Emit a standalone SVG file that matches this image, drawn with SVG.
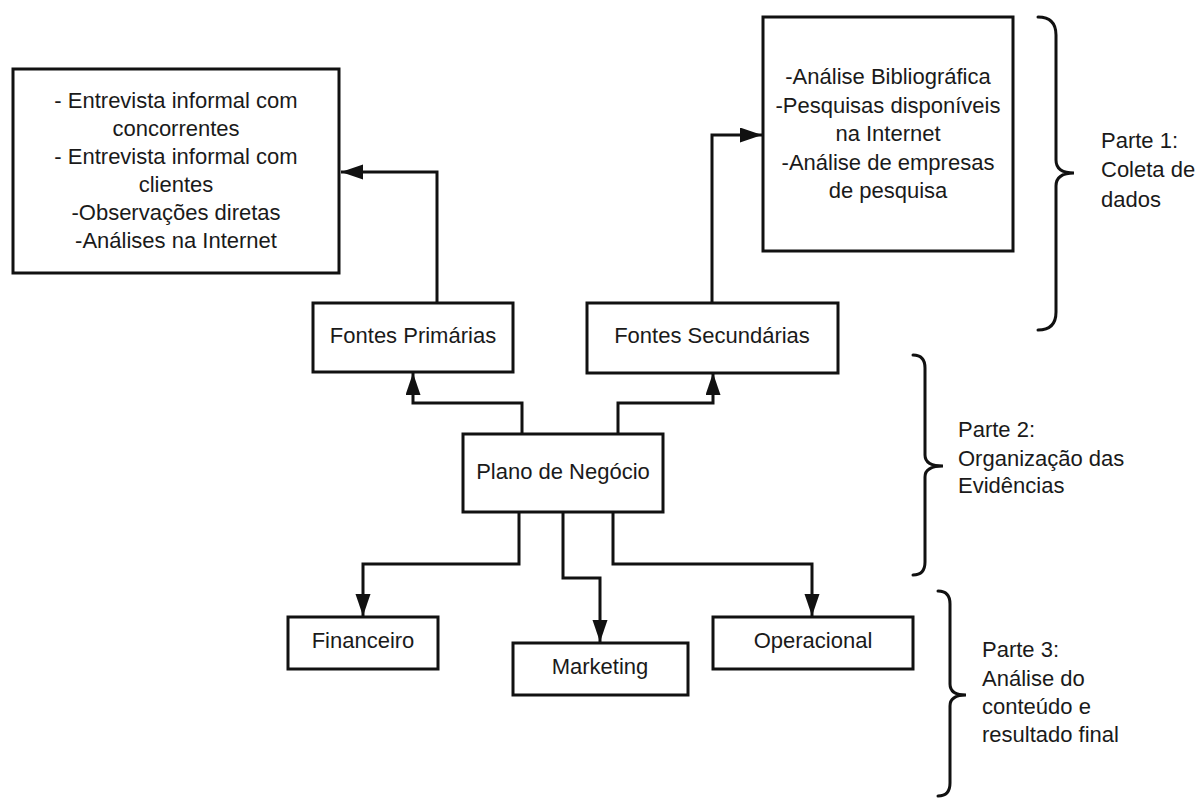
<svg xmlns="http://www.w3.org/2000/svg" width="1200" height="799" viewBox="0 0 1200 799">
  <style>
    .box { fill: #ffffff; stroke: #111111; stroke-width: 3; }
    .lbl { font-family: "Liberation Sans", Arial, sans-serif; font-size: 22px; fill: #1a1a1a; text-anchor: middle; }
    .side { font-family: "Liberation Sans", Arial, sans-serif; font-size: 22px; fill: #1a1a1a; }
    .conn { fill: none; stroke: #111111; stroke-width: 3; marker-end: url(#arrow); }
    .brace { fill: none; stroke: #111111; stroke-width: 3; stroke-linecap: round; }
  </style>
  <defs>
    <marker id="arrow" markerUnits="userSpaceOnUse" markerWidth="24" markerHeight="16" refX="22" refY="7.5" orient="auto">
      <path d="M0,0 L22,7.5 L0,15 Z" fill="#111111"/>
    </marker>
  </defs>
  <rect width="1200" height="799" fill="#ffffff"/>

  <!-- connectors -->
  <g id="connectors">
    <path class="conn" d="M437,303 V172 H341"/>
    <path class="conn" d="M712,303 V135 H762"/>
    <path class="conn" d="M522,434 V403 H413 V373"/>
    <path class="conn" d="M618,434 V403 H713 V373"/>
    <path class="conn" d="M519,513 V564 H363 V616"/>
    <path class="conn" d="M563,513 V578 H600 V642"/>
    <path class="conn" d="M613,513 V564 H812 V616"/>
  </g>

  <g id="primarias-detalhe">
    <rect class="box" x="13" y="69" width="326" height="204"/>
    <text class="lbl" x="176" y="108">- Entrevista informal com</text>
    <text class="lbl" x="176" y="136">concorrentes</text>
    <text class="lbl" x="176" y="164">- Entrevista informal com</text>
    <text class="lbl" x="176" y="192">clientes</text>
    <text class="lbl" x="176" y="220">-Observações diretas</text>
    <text class="lbl" x="176" y="248">-Análises na Internet</text>
  </g>

  <g id="secundarias-detalhe">
    <rect class="box" x="763" y="17" width="250" height="234"/>
    <text class="lbl" x="888" y="84">-Análise Bibliográfica</text>
    <text class="lbl" x="888" y="113">-Pesquisas disponíveis</text>
    <text class="lbl" x="888" y="141">na Internet</text>
    <text class="lbl" x="888" y="170">-Análise de empresas</text>
    <text class="lbl" x="888" y="198">de pesquisa</text>
  </g>

  <g id="fontes-primarias">
    <rect class="box" x="313" y="303" width="200" height="69"/>
    <text class="lbl" x="413" y="343">Fontes Primárias</text>
  </g>

  <g id="fontes-secundarias">
    <rect class="box" x="587" y="303" width="251" height="70"/>
    <text class="lbl" x="712" y="343">Fontes Secundárias</text>
  </g>

  <g id="plano">
    <rect class="box" x="463" y="434" width="200" height="78"/>
    <text class="lbl" x="563" y="479">Plano de Negócio</text>
  </g>

  <g id="financeiro">
    <rect class="box" x="288" y="617" width="150" height="52"/>
    <text class="lbl" x="363" y="648">Financeiro</text>
  </g>

  <g id="marketing">
    <rect class="box" x="513" y="643" width="175" height="52"/>
    <text class="lbl" x="600" y="674">Marketing</text>
  </g>

  <g id="operacional">
    <rect class="box" x="713" y="617" width="200" height="52"/>
    <text class="lbl" x="813" y="648">Operacional</text>
  </g>

  <!-- stage brackets -->
  <g id="parte1">
    <path class="brace" d="M1038,17 Q1056,17 1056,35 V160 Q1056,173 1074,173 Q1056,173 1056,186 V312 Q1056,330 1038,330"/>
    <text class="side" x="1101" y="148">Parte 1:</text>
    <text class="side" x="1101" y="177">Coleta de</text>
    <text class="side" x="1101" y="207">dados</text>
  </g>

  <g id="parte2">
    <path class="brace" d="M913,355 Q925,355 925,368 V455 Q925,466 943,466 Q925,466 925,477 V562 Q925,575 913,575"/>
    <text class="side" x="958" y="437">Parte 2:</text>
    <text class="side" x="958" y="466">Organização das</text>
    <text class="side" x="958" y="493">Evidências</text>
  </g>

  <g id="parte3">
    <path class="brace" d="M938,591 Q950,591 950,604 V684 Q950,695 966,695 Q950,695 950,706 V783 Q950,796 938,796"/>
    <text class="side" x="982" y="657">Parte 3:</text>
    <text class="side" x="982" y="686">Análise do</text>
    <text class="side" x="982" y="714">conteúdo e</text>
    <text class="side" x="982" y="742">resultado final</text>
  </g>
</svg>
